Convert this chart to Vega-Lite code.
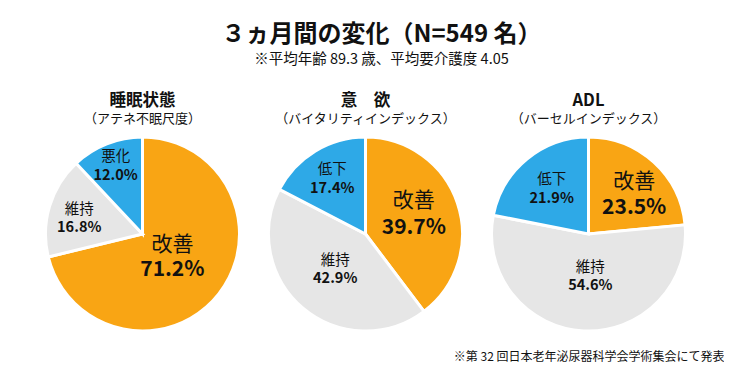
{
  "$schema": "https://vega.github.io/schema/vega-lite/v6.json",
  "padding": {"left": 31, "top": 23, "right": 0, "bottom": 0},
  "background": "#ffffff",
  "config": {"view": {"stroke": null}, "font": "Noto Sans CJK JP", "title": {"color": "#111111", "subtitleColor": "#111111"}},
  "title": {"text": "３ヵ月間の変化（N=549 名）", "subtitle": "※平均年齢 89.3 歳、平均要介護度 4.05", "fontSize": 24, "fontWeight": "bold", "subtitleFontSize": 14.5, "subtitlePadding": 6, "anchor": "middle", "dx": 4, "offset": 26},
  "datasets": {
    "sleep": [
      {"cat": "改善", "v": 0.712, "ord": 1},
      {"cat": "維持", "v": 0.168, "ord": 2},
      {"cat": "悪化", "v": 0.120, "ord": 3}
    ],
    "motiv": [
      {"cat": "改善", "v": 0.397, "ord": 1},
      {"cat": "維持", "v": 0.429, "ord": 2},
      {"cat": "低下", "v": 0.174, "ord": 3}
    ],
    "adl": [
      {"cat": "改善", "v": 0.235, "ord": 1},
      {"cat": "維持", "v": 0.546, "ord": 2},
      {"cat": "低下", "v": 0.219, "ord": 3}
    ]
  },
  "spacing": 0,
  "bounds": "flush",
  "hconcat": [
    {
      "width": 223, "height": 198,
      "title": {"text": "睡眠状態", "subtitle": "（アテネ不眠尺度）", "fontSize": 16.5, "fontWeight": "bold", "subtitleFontSize": 13, "subtitlePadding": 4, "anchor": "middle", "offset": 5},
      "data": {"name": "sleep"},
      "encoding": {
        "theta": {"field": "v", "type": "quantitative", "stack": true},
        "order": {"field": "ord", "type": "quantitative"},
        "color": {"field": "cat", "type": "nominal", "scale": {"domain": ["改善", "維持", "悪化", "低下"], "range": ["#F9A514", "#E6E6E6", "#2EA9E7", "#2EA9E7"]}, "legend": null}
      },
      "layer": [
        {"mark": {"type": "arc", "outerRadius": 97, "stroke": "#ffffff", "strokeWidth": 3}},
        {"mark": {"type": "text", "radius": 38, "dy": -12.5, "fontSize": 21, "fontWeight": "normal"}, "encoding": {"text": {"condition": {"test": "datum.cat === '改善'", "field": "cat"}, "value": ""}, "color": {"value": "#111111"}}},
        {"mark": {"type": "text", "radius": 38, "dy": 12.5, "fontSize": 21, "fontWeight": "bold"}, "encoding": {"text": {"condition": {"test": "datum.cat === '改善'", "field": "v", "type": "quantitative", "format": ".1%"}, "value": ""}, "color": {"value": "#111111"}}},
        {"mark": {"type": "text", "radius": 66, "dy": -5, "fontSize": 14.5, "fontWeight": "normal"}, "encoding": {"text": {"condition": {"test": "datum.cat === '維持'", "field": "cat"}, "value": ""}, "color": {"value": "#111111"}}},
        {"mark": {"type": "text", "radius": 66, "dy": 13, "fontSize": 14.5, "fontWeight": "bold"}, "encoding": {"text": {"condition": {"test": "datum.cat === '維持'", "field": "v", "type": "quantitative", "format": ".1%"}, "value": ""}, "color": {"value": "#111111"}}},
        {"mark": {"type": "text", "radius": 73, "dy": -9.5, "fontSize": 14.5, "fontWeight": "normal"}, "encoding": {"text": {"condition": {"test": "datum.cat === '悪化'", "field": "cat"}, "value": ""}, "color": {"value": "#111111"}}},
        {"mark": {"type": "text", "radius": 73, "dy": 9.5, "fontSize": 14.5, "fontWeight": "bold"}, "encoding": {"text": {"condition": {"test": "datum.cat === '悪化'", "field": "v", "type": "quantitative", "format": ".1%"}, "value": ""}, "color": {"value": "#111111"}}}
      ]
    },
    {
      "width": 223, "height": 198,
      "title": {"text": "意　欲", "subtitle": "（バイタリティインデックス）", "fontSize": 16.5, "fontWeight": "bold", "subtitleFontSize": 13, "subtitlePadding": 4, "anchor": "middle", "offset": 5},
      "data": {"name": "motiv"},
      "encoding": {
        "theta": {"field": "v", "type": "quantitative", "stack": true},
        "order": {"field": "ord", "type": "quantitative"},
        "color": {"field": "cat", "type": "nominal", "scale": {"domain": ["改善", "維持", "悪化", "低下"], "range": ["#F9A514", "#E6E6E6", "#2EA9E7", "#2EA9E7"]}, "legend": null}
      },
      "layer": [
        {"mark": {"type": "arc", "outerRadius": 97, "stroke": "#ffffff", "strokeWidth": 3}},
        {"mark": {"type": "text", "radius": 51, "dy": -16.5, "fontSize": 21, "fontWeight": "normal"}, "encoding": {"text": {"condition": {"test": "datum.cat === '改善'", "field": "cat"}, "value": ""}, "color": {"value": "#111111"}}},
        {"mark": {"type": "text", "radius": 51, "dy": 10.5, "fontSize": 21, "fontWeight": "bold"}, "encoding": {"text": {"condition": {"test": "datum.cat === '改善'", "field": "v", "type": "quantitative", "format": ".1%"}, "value": ""}, "color": {"value": "#111111"}}},
        {"mark": {"type": "text", "radius": 47, "dy": -9, "fontSize": 14.5, "fontWeight": "normal"}, "encoding": {"text": {"condition": {"test": "datum.cat === '維持'", "field": "cat"}, "value": ""}, "color": {"value": "#111111"}}},
        {"mark": {"type": "text", "radius": 47, "dy": 9, "fontSize": 14.5, "fontWeight": "bold"}, "encoding": {"text": {"condition": {"test": "datum.cat === '維持'", "field": "v", "type": "quantitative", "format": ".1%"}, "value": ""}, "color": {"value": "#111111"}}},
        {"mark": {"type": "text", "radius": 64, "dy": -9.5, "fontSize": 14.5, "fontWeight": "normal"}, "encoding": {"text": {"condition": {"test": "datum.cat === '低下'", "field": "cat"}, "value": ""}, "color": {"value": "#111111"}}},
        {"mark": {"type": "text", "radius": 64, "dy": 9.5, "fontSize": 14.5, "fontWeight": "bold"}, "encoding": {"text": {"condition": {"test": "datum.cat === '低下'", "field": "v", "type": "quantitative", "format": ".1%"}, "value": ""}, "color": {"value": "#111111"}}}
      ]
    },
    {
      "width": 223, "height": 198,
      "title": {"text": "ADL", "subtitle": "（バーセルインデックス）", "fontSize": 16.5, "fontWeight": "bold", "subtitleFontSize": 13, "subtitlePadding": 4, "anchor": "middle", "offset": 5},
      "data": {"name": "adl"},
      "layer": [
        {
          "encoding": {
            "theta": {"field": "v", "type": "quantitative", "stack": true},
            "order": {"field": "ord", "type": "quantitative"},
            "color": {"field": "cat", "type": "nominal", "scale": {"domain": ["改善", "維持", "悪化", "低下"], "range": ["#F9A514", "#E6E6E6", "#2EA9E7", "#2EA9E7"]}, "legend": null}
          },
          "layer": [
            {"mark": {"type": "arc", "outerRadius": 97, "stroke": "#ffffff", "strokeWidth": 3}},
            {"mark": {"type": "text", "radius": 59, "dx": 6, "dy": -8.5, "fontSize": 21, "fontWeight": "normal"}, "encoding": {"text": {"condition": {"test": "datum.cat === '改善'", "field": "cat"}, "value": ""}, "color": {"value": "#111111"}}},
            {"mark": {"type": "text", "radius": 59, "dx": 6, "dy": 18, "fontSize": 21, "fontWeight": "bold"}, "encoding": {"text": {"condition": {"test": "datum.cat === '改善'", "field": "v", "type": "quantitative", "format": ".1%"}, "value": ""}, "color": {"value": "#111111"}}},
            {"mark": {"type": "text", "radius": 43, "dx": 4, "dy": -9.25, "fontSize": 14.5, "fontWeight": "normal"}, "encoding": {"text": {"condition": {"test": "datum.cat === '維持'", "field": "cat"}, "value": ""}, "color": {"value": "#111111"}}},
            {"mark": {"type": "text", "radius": 43, "dx": 4, "dy": 9.25, "fontSize": 14.5, "fontWeight": "bold"}, "encoding": {"text": {"condition": {"test": "datum.cat === '維持'", "field": "v", "type": "quantitative", "format": ".1%"}, "value": ""}, "color": {"value": "#111111"}}},
            {"mark": {"type": "text", "radius": 58, "dy": -9.5, "fontSize": 14.5, "fontWeight": "normal"}, "encoding": {"text": {"condition": {"test": "datum.cat === '低下'", "field": "cat"}, "value": ""}, "color": {"value": "#111111"}}},
            {"mark": {"type": "text", "radius": 58, "dy": 9.5, "fontSize": 14.5, "fontWeight": "bold"}, "encoding": {"text": {"condition": {"test": "datum.cat === '低下'", "field": "v", "type": "quantitative", "format": ".1%"}, "value": ""}, "color": {"value": "#111111"}}}
          ]
        },
        {
          "mark": {"type": "text"},
          "encoding": {
            "x": {"datum": 0, "type": "quantitative", "scale": {"domain": [0, 1]}, "axis": {"title": "※第 32 回日本老年泌尿器科学会学術集会にて発表", "domain": false, "ticks": false, "labels": false, "grid": false, "titleFontSize": 12, "titleFontWeight": "normal", "titleColor": "#111111", "titleAnchor": "end", "titleAlign": "right", "titleX": 247, "titleY": 23, "titleBaseline": "middle"}},
            "text": {"value": ""}
          }
        }
      ]
    }
  ]
}
